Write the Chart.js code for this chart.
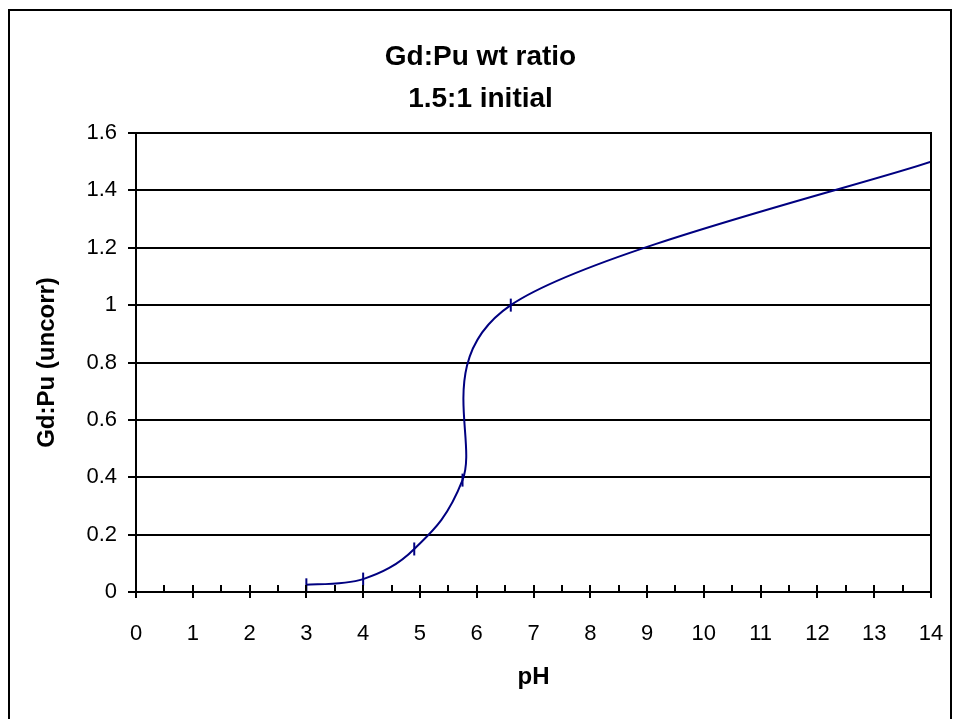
<!DOCTYPE html>
<html>
<head>
<meta charset="utf-8">
<title>Gd:Pu wt ratio</title>
<script src="https://cdn.jsdelivr.net/npm/chart.js@4.4.1/dist/chart.umd.min.js"></script>
<style>
  html, body { margin: 0; padding: 0; background: #fff; overflow: hidden; }
  #wrap { position: relative; width: 956px; height: 719px; }
  #frame {
    position: absolute; left: 8px; top: 9px; width: 944px; height: 720px;
    border: 2px solid #000; box-sizing: border-box; pointer-events: none;
  }
</style>
</head>
<body>
<div id="wrap">
  <canvas id="ratio-chart" width="956" height="719"></canvas>
  <div id="frame"></div>
</div>
<script>
  // measured points
  var phValues = [3, 4, 4.9, 5.75, 6.6, 14];
  var ratioValues = [0.025, 0.045, 0.15, 0.39, 1.0, 1.5];

  // axis ticks
  var xTicks = [0, 1, 2, 3, 4, 5, 6, 7, 8, 9, 10, 11, 12, 13, 14];
  var yTicks = [0, 0.2, 0.4, 0.6, 0.8, 1, 1.2, 1.4, 1.6];

  var points = [];
  for (var i = 0; i < phValues.length; i++) {
    points.push({ x: phValues[i], y: ratioValues[i] });
  }

  Chart.defaults.font.family = "'Liberation Sans', Arial, sans-serif";
  Chart.defaults.color = '#000';

  // spreadsheet-style smoothing: control points at +-(next - prev) / 6
  var smoothLine = {
    id: 'smoothLine',
    beforeDatasetDraw: function(chart, args) {
      var pts = args.meta.data;
      for (var i = 0; i < pts.length; i++) {
        var p = pts[i];
        var prev = pts[Math.max(i - 1, 0)];
        var next = pts[Math.min(i + 1, pts.length - 1)];
        var dx = (next.x - prev.x) / 6;
        var dy = (next.y - prev.y) / 6;
        p.cp1x = p.x - dx;
        p.cp1y = p.y - dy;
        p.cp2x = p.x + dx;
        p.cp2y = p.y + dy;
      }
      args.meta.dataset._pointsUpdated = true;
      args.meta.dataset._path = undefined;
    }
  };

  // plot box right edge and inner tick marks on the x axis
  var plotFrame = {
    id: 'plotFrame',
    afterDraw: function(chart) {
      var ctx = chart.ctx;
      var area = chart.chartArea;
      var xs = chart.scales.x;
      ctx.save();
      ctx.strokeStyle = '#000';
      ctx.lineWidth = 2;
      ctx.beginPath();
      ctx.moveTo(area.right, area.top - 1);
      ctx.lineTo(area.right, area.bottom);
      for (var v = 0; v <= 14; v += 0.5) {
        var px = Math.round(xs.getPixelForValue(v));
        ctx.moveTo(px, area.bottom);
        ctx.lineTo(px, area.bottom - 7);
      }
      ctx.stroke();
      ctx.restore();
    }
  };

  new Chart(document.getElementById('ratio-chart'), {
    type: 'scatter',
    data: {
      datasets: [{
        data: points,
        showLine: true,
        tension: 0.4,
        borderColor: '#000080',
        borderWidth: 2,
        pointStyle: 'line',
        rotation: 90,
        pointRadius: 6.5,
        pointBorderColor: '#000080',
        pointBorderWidth: 2
      }]
    },
    options: {
      responsive: false,
      animation: false,
      layout: { padding: { left: 30, right: 25, top: 0, bottom: 20 } },
      plugins: {
        legend: { display: false },
        tooltip: { enabled: false },
        title: {
          display: true,
          text: ['Gd:Pu wt ratio', '1.5:1 initial'],
          color: '#000',
          font: { size: 28, weight: 'bold', lineHeight: 1.5 },
          padding: { top: 36, bottom: 13 }
        }
      },
      scales: {
        x: {
          type: 'linear',
          min: 0,
          max: 14,
          afterBuildTicks: function(scale) {
            scale.ticks = xTicks.map(function(v) { return { value: v }; });
          },
          afterFit: function(scale) {
            scale.height = 107;
            scale.paddingLeft = 0;
            scale.paddingRight = 0;
          },
          ticks: { padding: 23, font: { size: 22 }, color: '#000' },
          grid: {
            drawOnChartArea: false,
            drawTicks: true,
            tickLength: 6,
            color: '#000',
            lineWidth: 2
          },
          border: { display: true, color: '#000', width: 2 },
          title: {
            display: true,
            text: 'pH',
            color: '#000',
            font: { size: 24, weight: 'bold' },
            padding: { top: 0, bottom: 7 }
          }
        },
        y: {
          min: 0,
          max: 1.6,
          afterBuildTicks: function(scale) {
            scale.ticks = yTicks.map(function(v) { return { value: v }; });
          },
          afterFit: function(scale) {
            scale.width = 106;
            scale.paddingTop = 0;
            scale.paddingBottom = 0;
          },
          ticks: {
            padding: 11,
            font: { size: 22 },
            color: '#000',
            callback: function(value) { return String(+value.toFixed(1)); }
          },
          grid: {
            drawTicks: true,
            tickLength: 8,
            color: '#000',
            lineWidth: 2
          },
          border: { display: true, color: '#000', width: 2 },
          title: {
            display: true,
            text: 'Gd:Pu (uncorr)',
            color: '#000',
            font: { size: 24, weight: 'bold' },
            padding: { top: 3, bottom: 0 }
          }
        }
      }
    },
    plugins: [smoothLine, plotFrame]
  });
</script>
</body>
</html>
